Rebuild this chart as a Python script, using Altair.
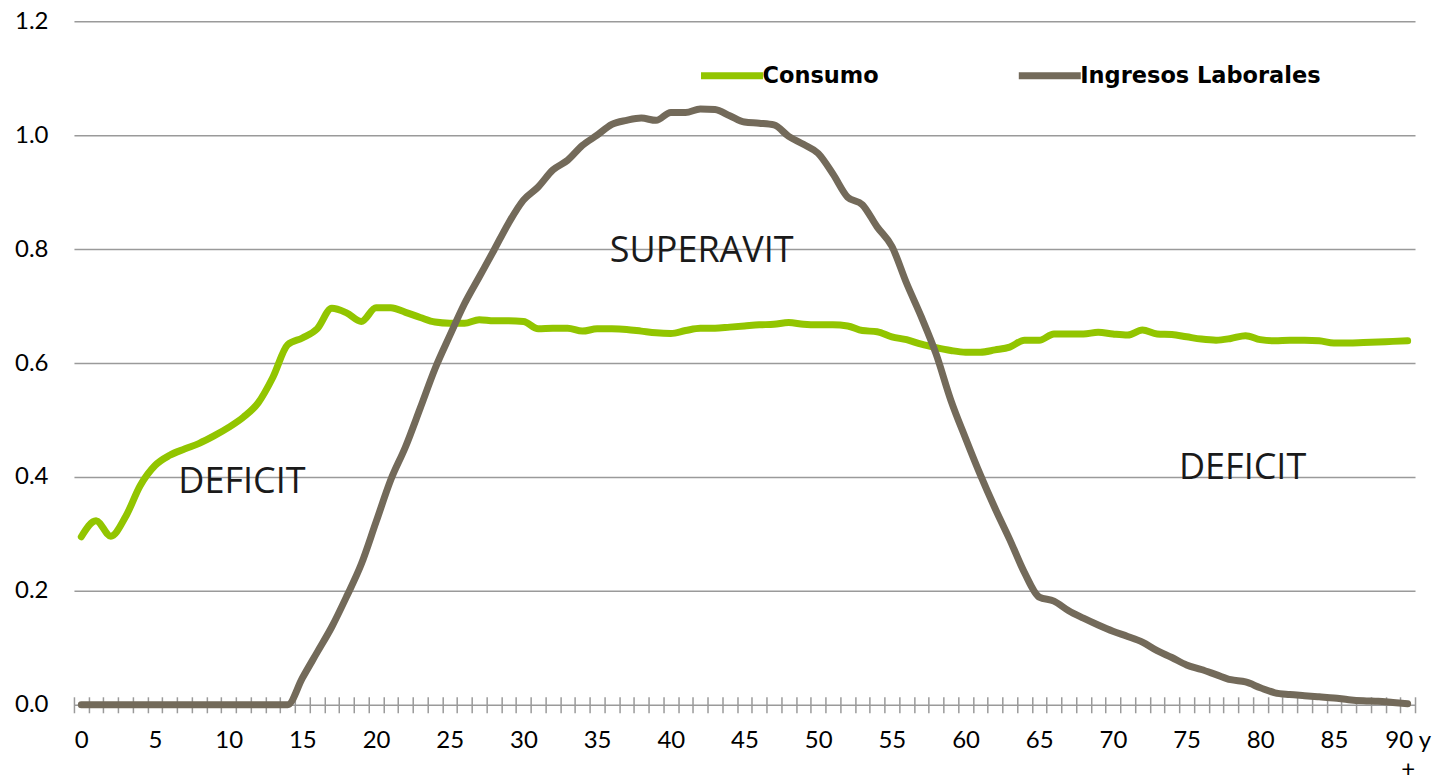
import altair as alt
import pandas as pd

ages = list(range(91))

consumo = [
    0.295, 0.323, 0.296, 0.330, 0.385, 0.420, 0.438, 0.449, 0.459, 0.472,
    0.487, 0.505, 0.530, 0.575, 0.632, 0.644, 0.660, 0.696, 0.688, 0.673,
    0.697, 0.697, 0.689, 0.680, 0.672, 0.670, 0.670, 0.676, 0.674, 0.674,
    0.673, 0.660, 0.661, 0.661, 0.656, 0.660, 0.660, 0.659, 0.656, 0.653,
    0.652, 0.657, 0.661, 0.661, 0.663, 0.665, 0.667, 0.668, 0.671, 0.668,
    0.667, 0.667, 0.665, 0.657, 0.655, 0.646, 0.641, 0.633, 0.627, 0.622,
    0.619, 0.619, 0.623, 0.628, 0.640, 0.640, 0.651, 0.651, 0.651, 0.654,
    0.651, 0.649, 0.658, 0.651, 0.650, 0.646, 0.642, 0.640, 0.643, 0.648,
    0.641, 0.639, 0.640, 0.640, 0.639, 0.635, 0.635, 0.636, 0.637, 0.638,
    0.639,
]

ingresos = [
    0.0, 0.0, 0.0, 0.0, 0.0, 0.0, 0.0, 0.0, 0.0, 0.0,
    0.0, 0.0, 0.0, 0.0, 0.0, 0.047, 0.092, 0.137, 0.190, 0.247,
    0.321, 0.395, 0.453, 0.521, 0.590, 0.648, 0.704, 0.751, 0.798, 0.846,
    0.886, 0.909, 0.939, 0.956, 0.982, 1.000, 1.019, 1.026, 1.030, 1.026,
    1.040, 1.040, 1.046, 1.045, 1.034, 1.023, 1.021, 1.018, 0.998, 0.984,
    0.968, 0.932, 0.891, 0.878, 0.839, 0.805, 0.740, 0.681, 0.616, 0.535,
    0.468, 0.404, 0.345, 0.290, 0.232, 0.189, 0.182, 0.165, 0.152, 0.140,
    0.129, 0.120, 0.110, 0.095, 0.083, 0.070, 0.062, 0.053, 0.044, 0.040,
    0.030, 0.021, 0.018, 0.016, 0.014, 0.012, 0.009, 0.007, 0.006, 0.004,
    0.002,
]

series_names = ["Consumo", "Ingresos Laborales"]
series_colors = ["#92C500", "#736A5A"]

annot_text = ["DEFICIT", "SUPERAVIT", "DEFICIT"]
annot_age = [10.9, 42.1, 78.8]
annot_value = [0.391, 0.796, 0.416]

y_ticks = [0.0, 0.2, 0.4, 0.6, 0.8, 1.0, 1.2]

rows = []
for name, vals in zip(series_names, [consumo, ingresos]):
    for a, v in zip(ages, vals):
        rows.append({"age": a, "value": v, "series": name})
df = pd.DataFrame(rows)
annot_df = pd.DataFrame({"label": annot_text, "age": annot_age, "value": annot_value})

AXIS_FONT = "Lato"
LEGEND_FONT = "DejaVu Sans"

y_enc = alt.Y(
    "value:Q",
    scale=alt.Scale(domain=[0, 1.2], nice=False, zero=True),
    axis=alt.Axis(
        title=None, values=y_ticks, format=".1f", domain=False, ticks=False,
        tickSize=0, labelPadding=26, grid=True, gridColor="#9a9a9a",
        gridWidth=1.5, labelFont=AXIS_FONT, labelFontSize=24,
        labelColor="#000000",
    ),
)

label_expr = (
    "datum.value == 90 ? ['90 y', '+'] : "
    "(datum.value % 5 == 0 ? datum.label : '')"
)

lines = alt.Chart(df).mark_line(
    strokeWidth=7, strokeCap="round", strokeJoin="round", interpolate="monotone"
).encode(
    x=alt.X(
        "age:O",
        sort=ages,
        scale=alt.Scale(type="band", paddingInner=0, paddingOuter=0),
        axis=alt.Axis(
            title=None, tickBand="extent", tickSize=16, offset=-8,
            domain=False, ticks=True, tickColor="#9a9a9a", tickWidth=1.5,
            labelExpr=label_expr, labelFont=AXIS_FONT, labelFontSize=24,
            labelColor="#000000", labelPadding=16, labelAngle=0,
            labelOverlap=False, labelLineHeight=29, grid=False,
        ),
    ),
    y=y_enc,
    color=alt.Color(
        "series:N",
        scale=alt.Scale(domain=series_names, range=series_colors),
        legend=alt.Legend(
            title=None, orient="none", legendX=624, legendY=20,
            direction="horizontal", symbolType="stroke", symbolSize=3844,
            symbolStrokeWidth=7, labelFont=LEGEND_FONT, labelFontWeight="bold",
            labelFontSize=22.5, labelColor="#000000", labelOffset={"expr": "-4"},
            labelLimit=500, columnPadding=125, gridAlign="none", padding=0,
        ),
    ),
)

text = alt.Chart(annot_df).mark_text(
    font="Open Sans", fontSize=36, color="#1a1a1a"
).encode(
    x=alt.X("age:Q", scale=alt.Scale(domain=[-0.5, 90.5], nice=False, zero=False), axis=None),
    y=y_enc,
    text="label:N",
)

chart = alt.layer(lines, text).resolve_scale(x="independent").properties(
    width=1342,
    height=684,
    autosize=alt.AutoSizeParams(type="none"),
    padding={"left": 66, "top": 13, "right": 20, "bottom": 70},
    background="white",
).configure_view(stroke=None)

chart.save("out.html", embed_options={"renderer": "svg", "actions": False})
